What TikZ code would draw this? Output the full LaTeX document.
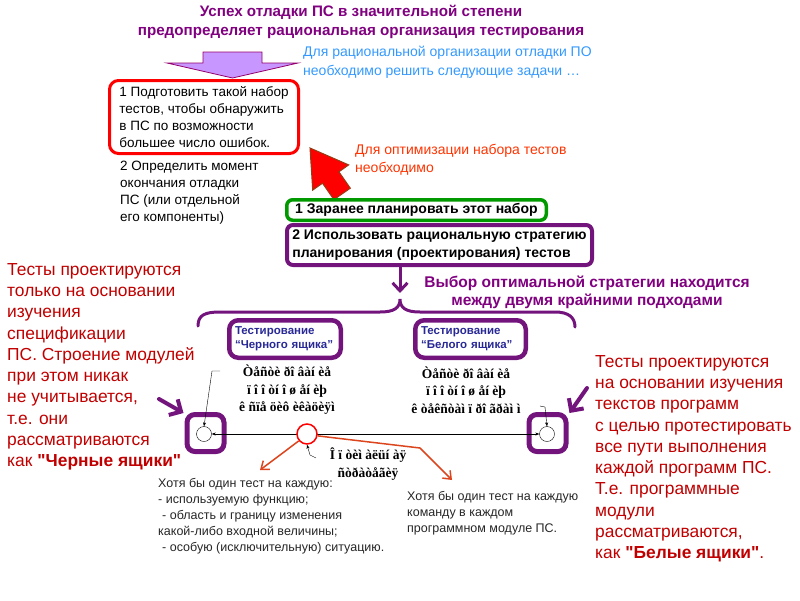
\documentclass[tikz,border=0pt]{standalone}
\usepackage{fontspec}
\setmainfont{Liberation Sans}[Ligatures=TeXOff]
\newfontfamily\codefont{Liberation Serif}
\usetikzlibrary{arrows.meta, positioning, calc}

\definecolor{titlepurple}{RGB}{128,0,128}
\definecolor{boxpurple}{RGB}{115,20,125}
\definecolor{noteblue}{RGB}{51,153,255}
\definecolor{notered}{RGB}{255,51,0}
\definecolor{darkred}{RGB}{192,0,0}
\definecolor{boxgreen}{RGB}{0,153,0}
\definecolor{labelnavy}{RGB}{40,40,150}
\definecolor{linkred}{RGB}{220,70,30}
\definecolor{arrowlilac}{RGB}{200,150,255}
\definecolor{arrowbrown}{RGB}{150,60,20}

\begin{document}
\begin{tikzpicture}[
    x=1pt, y=-1pt,
    >=Stealth,
    title/.style={font=\fontsize{15.2}{18.5}\selectfont\bfseries, text=titlepurple, align=center},
    plain/.style={font=\fontsize{13.5}{16.8}\selectfont, align=left, inner sep=0pt, anchor=north west},
    note/.style={font=\fontsize{14}{18.5}\selectfont, align=left, inner sep=0pt, anchor=north west},
    remark/.style={font=\fontsize{17.4}{21.3}\selectfont, text=darkred, align=left, inner sep=0pt, anchor=north west},
    hint/.style={font=\fontsize{12.5}{16}\selectfont, text=black!85, align=left, inner sep=0pt, anchor=north west},
    code/.style={font=\codefont\bfseries\fontsize{13.5}{17.5}\selectfont, align=center, inner sep=0pt},
    taskbox/.style={draw=red, line width=3pt, rounded corners=9pt, minimum width=189pt, minimum height=73pt, align=left, font=\fontsize{13.5}{16.8}\selectfont, anchor=north west},
    planbox/.style={line width=3.5pt, rounded corners=6pt, font=\fontsize{14}{17.5}\selectfont\bfseries, align=left, anchor=north west, fill=white},
    methodbox/.style={draw=boxpurple, line width=4.5pt, rounded corners=9pt, minimum height=37.5pt, text width=100pt, inner xsep=5.75pt, align=left, font=\fontsize{11.5}{14}\selectfont\bfseries, text=labelnavy, anchor=north west},
    circbox/.style={draw=boxpurple, line width=5pt, rounded corners=8pt, minimum size=37pt},
    vertex/.style={circle, draw, thin, fill=white, minimum size=15pt, inner sep=0pt},
    hotvertex/.style={circle, draw=red, line width=1.5pt, fill=white, minimum size=20pt, inner sep=0pt},
    thinarrow/.style={->, thin, >={Stealth[length=4pt, width=3pt]}},
    linkarrow/.style={line width=1.5pt, draw=linkred, -{Straight Barb[length=7pt, width=11pt]}},
    pointer/.style={line width=4pt, draw=boxpurple, -{Straight Barb[length=9pt, width=18pt]}, line cap=round}
]
\useasboundingbox (0,0) rectangle (800,600);

% Heading
\node[title] (head) at (361,22) {Успех отладки ПС в значительной степени\\предопределяет рациональная организация тестирования};
\filldraw[fill=arrowlilac, draw=violet!70!purple, line width=0.8pt]
    (203,52) -- (262,52) -- (262,63) -- (298,63) -- (232.5,78) -- (167,63) -- (203,63) -- cycle;
\node[note, text=noteblue] (goal) at (303,46) {Для рациональной организации отладки ПО\\необходимо решить следующие задачи \dots};

% Tasks
\node[taskbox] (task1) at (108,79) {1 Подготовить такой набор\\тестов, чтобы обнаружить\\в ПС по возможности\\большее число ошибок.};
\node[plain] (task2) at (120,161) {2 Определить момент\\окончания отладки\\ПС (или отдельной\\его компоненты)};

% Optimisation
\filldraw[fill=red, draw=arrowbrown, line width=1pt]
    (310,148) -- (348.7,164.9) -- (338.9,171.8) -- (350.3,188.2) -- (333.9,199.6) -- (322.5,183.2) -- (312.7,190.1) -- cycle;
\node[note, text=notered] (optim) at (355,144) {Для оптимизации набора тестов\\необходимо};
\node[planbox, draw=boxgreen, minimum width=259.5pt, minimum height=20.5pt] (plan1) at (285,198) {1 Заранее планировать этот набор};
\node[planbox, draw=boxpurple, line width=4pt, minimum width=305pt, minimum height=40pt] (plan2) at (285,223) {2 Использовать рациональную стратегию\\планирования (проектирования) тестов};

% Choice
\coordinate (choicetip) at (400,293);
\draw[line width=3pt, draw=boxpurple, -{Straight Barb[length=8pt, width=15pt]}] (plan2.south -| choicetip) -- (choicetip);
\node[font=\fontsize{15.5}{18}\selectfont\bfseries, text=titlepurple, align=center] (choice) at (587,292) {Выбор оптимальной стратегии находится\\между двумя крайними подходами};
\draw[line width=3pt, draw=boxpurple, line cap=round]
    (198,326) .. controls (198,315) and (205,312) .. (220,312) -- (380,312)
    .. controls (394,312) and (400,308) .. (400,299)
    .. controls (400,308) and (406,312) .. (420,312) -- (555,312)
    .. controls (568,312) and (575,317) .. (575,327);

% Approaches
\node[methodbox] (blackbox) at (227,318) {Тестирование\\“Черного ящика”};
\node[methodbox, text width=99pt] (whitebox) at (413,318) {Тестирование\\“Белого ящика”};
\node[code] (blackcrit) at (287,390) {Òåñòè ðî âàí èå\\ï î î òí î ø åí èþ\\ê ñïå öèô èêàöèÿì};
\node[code] (whitecrit) at (466,390) {Òåñòè ðî âàí èå\\ï î î òí î ø åí èþ\\ê òåêñòàì ï ðî ãðàì ì};

% Range of strategies
\node[circbox] (lbox) at (205.5,433) {};
\node[circbox] (rbox) at (547.5,433) {};
\node[vertex] (lcirc) at (204,434) {};
\node[vertex] (rcirc) at (547,434) {};
\draw[thinarrow, <->] (lcirc) -- (rcirc);
\node[hotvertex] (ocirc) at (307,434) {};
\node[code] (optcrit) at (368,464) {Î ï òèì àëüí àÿ\\ñòðàòåãèÿ};

\coordinate (blackhook) at (220,371);
\draw[thinarrow] (blackhook) -- ++(-8,0) -- (lcirc.north);
\coordinate (whitehook) at (540,406);
\draw[thinarrow] (whitehook) -- ++(5,1) -- (rcirc.north);
\coordinate (opthook) at (316,458);
\draw[thinarrow] (opthook) -- ++(-6,-3) -- (ocirc.south);

% Coverage notes
\coordinate (funcend) at (260,470);
\draw[linkarrow] (ocirc.220) -- (funcend);
\coordinate (cmdbend) at (420,448);
\coordinate (cmdend) at (452,480);
\draw[linkarrow] (ocirc.-10) -- (cmdbend) -- (cmdend);
\node[hint] (functest) at (158,478) {Хотя бы один тест на каждую:\\- используемую функцию;\\\hspace*{4pt}- область и границу изменения\\какой-либо входной величины;\\\hspace*{4pt}- особую (исключительную) ситуацию.};
\node[hint] (cmdtest) at (407,491) {Хотя бы один тест на каждую\\команду в каждом\\программном модуле ПС.};

% Side remarks
\node[remark] (blackinfo) at (7,263) {Тесты проектируются\\только на основании\\изучения\\спецификации\\ПС. Строение модулей\\при этом никак\\не учитывается,\\т.е. они\\рассматриваются\\как \textbf{"Черные ящики"}};
\node[remark] (whiteinfo) at (595,355) {Тесты проектируются\\на основании изучения\\текстов программ\\с целью протестировать\\все пути выполнения\\каждой программ ПС.\\Т.е. программные\\модули\\рассматриваются,\\как \textbf{"Белые ящики"}.};
\coordinate (blackpointer) at (159,399);
\draw[pointer] (blackpointer) -- ([shift={(-1,1)}]lbox.north west);
\coordinate (whitepointer) at (587,388);
\draw[pointer] (whitepointer) -- ([shift={(1,1)}]rbox.north east);

\end{tikzpicture}
\end{document}
